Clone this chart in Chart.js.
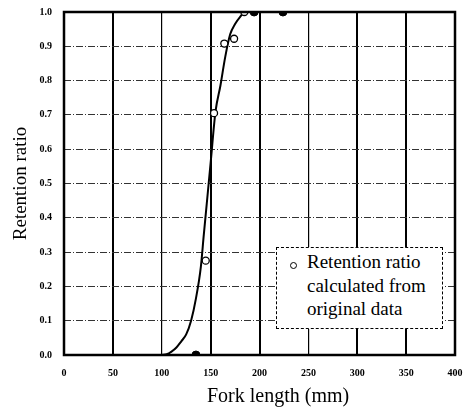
<!DOCTYPE html>
<html>
<head>
<meta charset="utf-8">
<script src="https://cdn.jsdelivr.net/npm/chart.js@4.4.1/dist/chart.umd.min.js"></script>
<style>
    body { margin: 0; background: #fff; }
    #wrap { position: relative; width: 463px; height: 411px; }
    #legend-box {
        position: absolute; left: 276px; top: 247px; width: 167px; height: 82px;
        box-sizing: border-box; border: 1px dashed #000; background: #fff;
        font: 19px 'Liberation Serif', 'DejaVu Serif', serif; line-height: 23.5px;
        padding: 2px 0 0 30px; color: #000;
    }
    #legend-box .mark {
        position: absolute; left: 13px; top: 14px; width: 5px; height: 5px;
        border: 1.2px solid #000; border-radius: 50%;
    }
    #x-title {
        position: absolute; left: 207px; top: 383px;
        font: 20px 'Liberation Serif', 'DejaVu Serif', serif; line-height: 24px; color: #000;
    }
</style>
</head>
<body>
<div id="wrap">
    <canvas id="chart" width="463" height="411"></canvas>
    <div id="legend-box"><span class="mark"></span>Retention ratio<br>calculated from<br>original data</div>
    <div id="x-title">Fork length (mm)</div>
</div>
<script>
// Fitted retention curve
const curveX = [100, 105, 110, 115, 120, 125, 130, 135, 140, 143, 146, 150, 155, 160, 165, 170, 175, 180, 185, 190];
const curveY = [0, 0.002, 0.01, 0.022, 0.04, 0.06, 0.1, 0.165, 0.257, 0.35, 0.44, 0.56, 0.71, 0.785, 0.87, 0.935, 0.965, 0.985, 1.0, 1.0];

// Retention ratio calculated from original data (open circles)
const openX = [145, 153.5, 164, 174, 184.5];
const openY = [0.275, 0.705, 0.908, 0.922, 1.0];

// Filled points
const filledX = [135, 194.5, 224];
const filledY = [0, 1.0, 1.0];

const xTicks = [0, 50, 100, 150, 200, 250, 300, 350, 400];

const toPoints = (xs, ys) => xs.map((x, i) => ({ x: x, y: ys[i] }));

// Thick frame around the plot area
const framePlugin = {
    id: 'frame',
    afterDraw: (chart) => {
        const a = chart.chartArea;
        const ctx = chart.ctx;
        ctx.save();
        ctx.lineWidth = 2.5;
        ctx.strokeStyle = '#000';
        ctx.strokeRect(a.left, a.top, a.right - a.left, a.bottom - a.top);
        ctx.restore();
    }
};

const serif = "'Liberation Serif', 'DejaVu Serif', serif";

new Chart(document.getElementById('chart').getContext('2d'), {
    type: 'scatter',
    data: {
        datasets: [
            {
                label: 'Curve',
                data: toPoints(curveX, curveY),
                showLine: true,
                borderColor: '#000',
                borderWidth: 2,
                pointRadius: 0,
                cubicInterpolationMode: 'monotone',
                order: 3
            },
            {
                label: 'Retention ratio calculated from original data',
                data: toPoints(openX, openY),
                pointRadius: 3.5,
                pointBorderWidth: 1.3,
                pointBorderColor: '#000',
                pointBackgroundColor: '#fff',
                order: 1
            },
            {
                label: 'Other',
                data: toPoints(filledX, filledY),
                pointRadius: 4,
                pointBorderColor: '#000',
                pointBackgroundColor: '#000',
                order: 2
            }
        ]
    },
    options: {
        responsive: false,
        animation: false,
        layout: { padding: { top: 12, right: 8, left: 0, bottom: 0 } },
        plugins: {
            legend: { display: false },
            tooltip: { enabled: false }
        },
        scales: {
            x: {
                type: 'linear',
                min: 0,
                max: 400,
                afterBuildTicks: (scale) => { scale.ticks = xTicks.map(v => ({ value: v })); },
                afterFit: (scale) => {
                    scale.height = 56;
                    scale.paddingLeft = 0;
                    scale.paddingRight = 0;
                },
                ticks: {
                    color: '#000',
                    padding: 12,
                    font: { family: serif, size: 10, weight: 'bold' }
                },
                grid: {
                    drawTicks: false,
                    color: '#000',
                    lineWidth: (ctx) => (ctx.tick && (ctx.tick.value === 100 || ctx.tick.value === 250)) ? 1.2 : 2
                },
                border: { display: false }
            },
            y: {
                min: 0,
                max: 1,
                ticks: {
                    stepSize: 0.1,
                    color: '#000',
                    padding: 12,
                    font: { family: serif, size: 10, weight: 'bold' },
                    callback: (v) => v.toFixed(1)
                },
                afterFit: (scale) => {
                    scale.width = 64;
                    scale.paddingTop = 0;
                    scale.paddingBottom = 0;
                },
                title: {
                    display: true,
                    text: 'Retention ratio',
                    color: '#000',
                    padding: { top: 10, bottom: 0 },
                    font: { family: serif, size: 19 }
                },
                grid: {
                    drawTicks: false,
                    color: '#333',
                    lineWidth: 1
                },
                border: { display: false, dash: [7, 2, 1, 2] }
            }
        }
    },
    plugins: [framePlugin]
});
</script>
</body>
</html>
